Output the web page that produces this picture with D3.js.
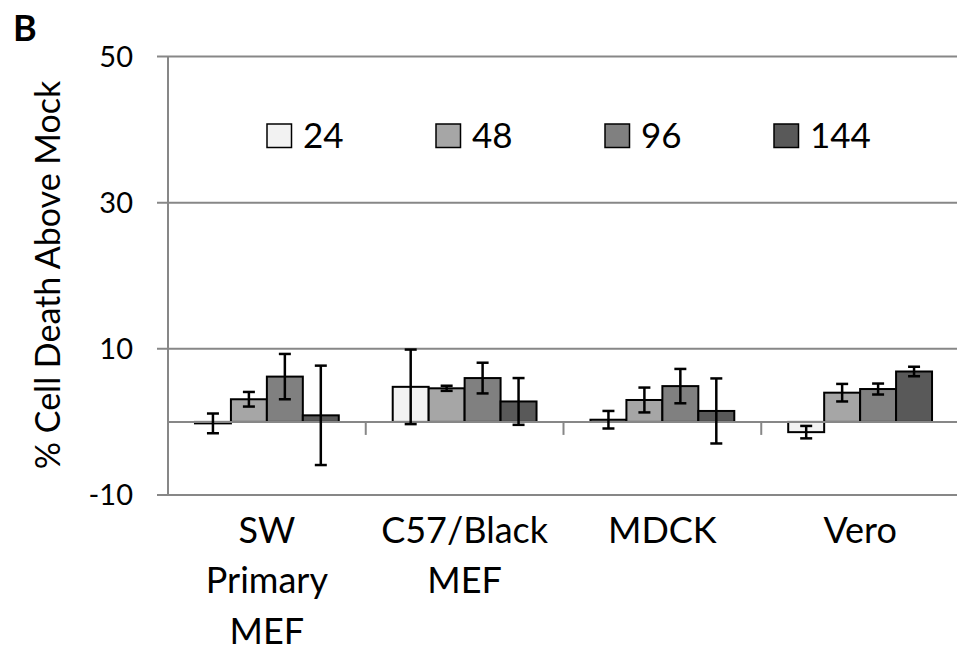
<!DOCTYPE html>
<html>
<head>
<meta charset="utf-8">
<script src="https://cdn.jsdelivr.net/npm/d3@7"></script>
<style>
  html, body { margin: 0; padding: 0; background: #fff; }
  svg { display: block; font-family: Lato, "Open Sans", sans-serif; }
</style>
</head>
<body>
<svg id="chart" width="957" height="653"></svg>
<script>
// ---- data ----
const categories = ["SW Primary MEF", "C57/Black MEF", "MDCK", "Vero"];
const categoryLines = [["SW", "Primary", "MEF"], ["C57/Black", "MEF"], ["MDCK"], ["Vero"]];
const seriesNames = ["24", "48", "96", "144"];
const values24  = [-0.2, 4.8, 0.3, -1.4];
const values48  = [3.1, 4.6, 3.0, 4.0];
const values96  = [6.2, 6.0, 4.9, 4.5];
const values144 = [0.9, 2.8, 1.5, 6.9];
const err24  = [1.35, 5.1, 1.2, 0.85];
const err48  = [1.0, 0.35, 1.7, 1.2];
const err96  = [3.1, 2.1, 2.35, 0.75];
const err144 = [6.8, 3.2, 4.45, 0.65];
const yTicks = [-10, 10, 30, 50];
const yTitle = "% Cell Death Above Mock";
const panelLabel = "B";

const seriesValues = [values24, values48, values96, values144];
const seriesErrors = [err24, err48, err96, err144];
const colors = ["#f2f2f2", "#a6a6a6", "#808080", "#595959"];

// ---- layout ----
const svg = d3.select("#chart");
const plotLeft = 168, plotTop = 56.5, plotBottom = 495;
const catWidth = 197.75;

const y = d3.scaleLinear().domain([-10, 50]).range([plotBottom, plotTop]);
const x0 = d3.scaleBand().domain(categories)
  .range([plotLeft, plotLeft + catWidth * categories.length]).paddingInner(0).paddingOuter(0);
const x1 = d3.scaleBand().domain(seriesNames)
  .range([0, x0.bandwidth()]).paddingInner(0).paddingOuter(0.75);

const gridColor = "#878787";

// gridlines
svg.append("g").selectAll("line").data(yTicks).join("line")
  .attr("x1", plotLeft - 11).attr("x2", 957)
  .attr("y1", d => y(d)).attr("y2", d => y(d))
  .attr("stroke", gridColor).attr("stroke-width", 2);

// y axis line
svg.append("line")
  .attr("x1", plotLeft).attr("x2", plotLeft)
  .attr("y1", y(50)).attr("y2", y(-10))
  .attr("stroke", gridColor).attr("stroke-width", 2);

// y tick labels
svg.append("g").selectAll("text").data(yTicks).join("text")
  .attr("x", 133).attr("y", d => y(d) + 10)
  .attr("text-anchor", "end")
  .attr("font-size", 29).attr("fill", "#000")
  .text(d => d);

// bars
const data = [];
categories.forEach((c, i) => {
  seriesNames.forEach((s, j) => {
    data.push({ cat: c, ser: s, v: seriesValues[j][i], e: seriesErrors[j][i], color: colors[j] });
  });
});

svg.append("g").selectAll("rect").data(data).join("rect")
  .attr("x", d => x0(d.cat) + x1(d.ser))
  .attr("width", x1.bandwidth())
  .attr("y", d => Math.min(y(d.v), y(0)))
  .attr("height", d => Math.abs(y(d.v) - y(0)))
  .attr("fill", d => d.color)
  .attr("stroke", "#000").attr("stroke-width", 2);

// zero axis line
svg.append("line")
  .attr("x1", plotLeft).attr("x2", 957)
  .attr("y1", y(0)).attr("y2", y(0))
  .attr("stroke", gridColor).attr("stroke-width", 2);

// category separators
svg.append("g").selectAll("line").data(categories.slice(1)).join("line")
  .attr("x1", d => x0(d)).attr("x2", d => x0(d))
  .attr("y1", y(0)).attr("y2", y(0) + 13)
  .attr("stroke", gridColor).attr("stroke-width", 2);

// error bars
const eg = svg.append("g").attr("stroke", "#000").attr("stroke-width", 2.5);
data.forEach(d => {
  const cx = x0(d.cat) + x1(d.ser) + x1.bandwidth() / 2;
  const yt = y(d.v + d.e), yb = y(d.v - d.e);
  eg.append("line").attr("x1", cx).attr("x2", cx).attr("y1", yt).attr("y2", yb);
  eg.append("line").attr("x1", cx - 6).attr("x2", cx + 6).attr("y1", yt).attr("y2", yt);
  eg.append("line").attr("x1", cx - 6).attr("x2", cx + 6).attr("y1", yb).attr("y2", yb);
});

// category labels
const lineBase = [542.7, 593.3, 644];
categories.forEach((c, i) => {
  const cx = x0(c) + x0.bandwidth() / 2;
  categoryLines[i].forEach((ln, k) => {
    svg.append("text")
      .attr("x", cx).attr("y", lineBase[k])
      .attr("text-anchor", "middle")
      .attr("font-size", 36).attr("fill", "#000")
      .text(ln);
  });
});

// legend
const legendX = d3.scaleOrdinal().domain(seriesNames).range([267, 436, 605, 774]);
const lg = svg.append("g").selectAll("g").data(seriesNames).join("g")
  .attr("transform", d => `translate(${legendX(d)},0)`);
lg.append("rect")
  .attr("x", 0).attr("y", 124).attr("width", 24.5).attr("height", 23.5)
  .attr("fill", (d, i) => colors[i])
  .attr("stroke", "#000").attr("stroke-width", 1.5);
lg.append("text")
  .attr("x", 36).attr("y", 147.7)
  .attr("font-size", 35).attr("fill", "#000")
  .text(d => d);

// y title
svg.append("text")
  .attr("transform", "translate(60,275) rotate(-90)")
  .attr("text-anchor", "middle")
  .attr("font-size", 34).attr("fill", "#000")
  .text(yTitle);

// panel label
svg.append("text")
  .attr("x", 13).attr("y", 41)
  .attr("font-size", 36).attr("font-weight", "bold").attr("fill", "#000")
  .text(panelLabel);
</script>
</body>
</html>
